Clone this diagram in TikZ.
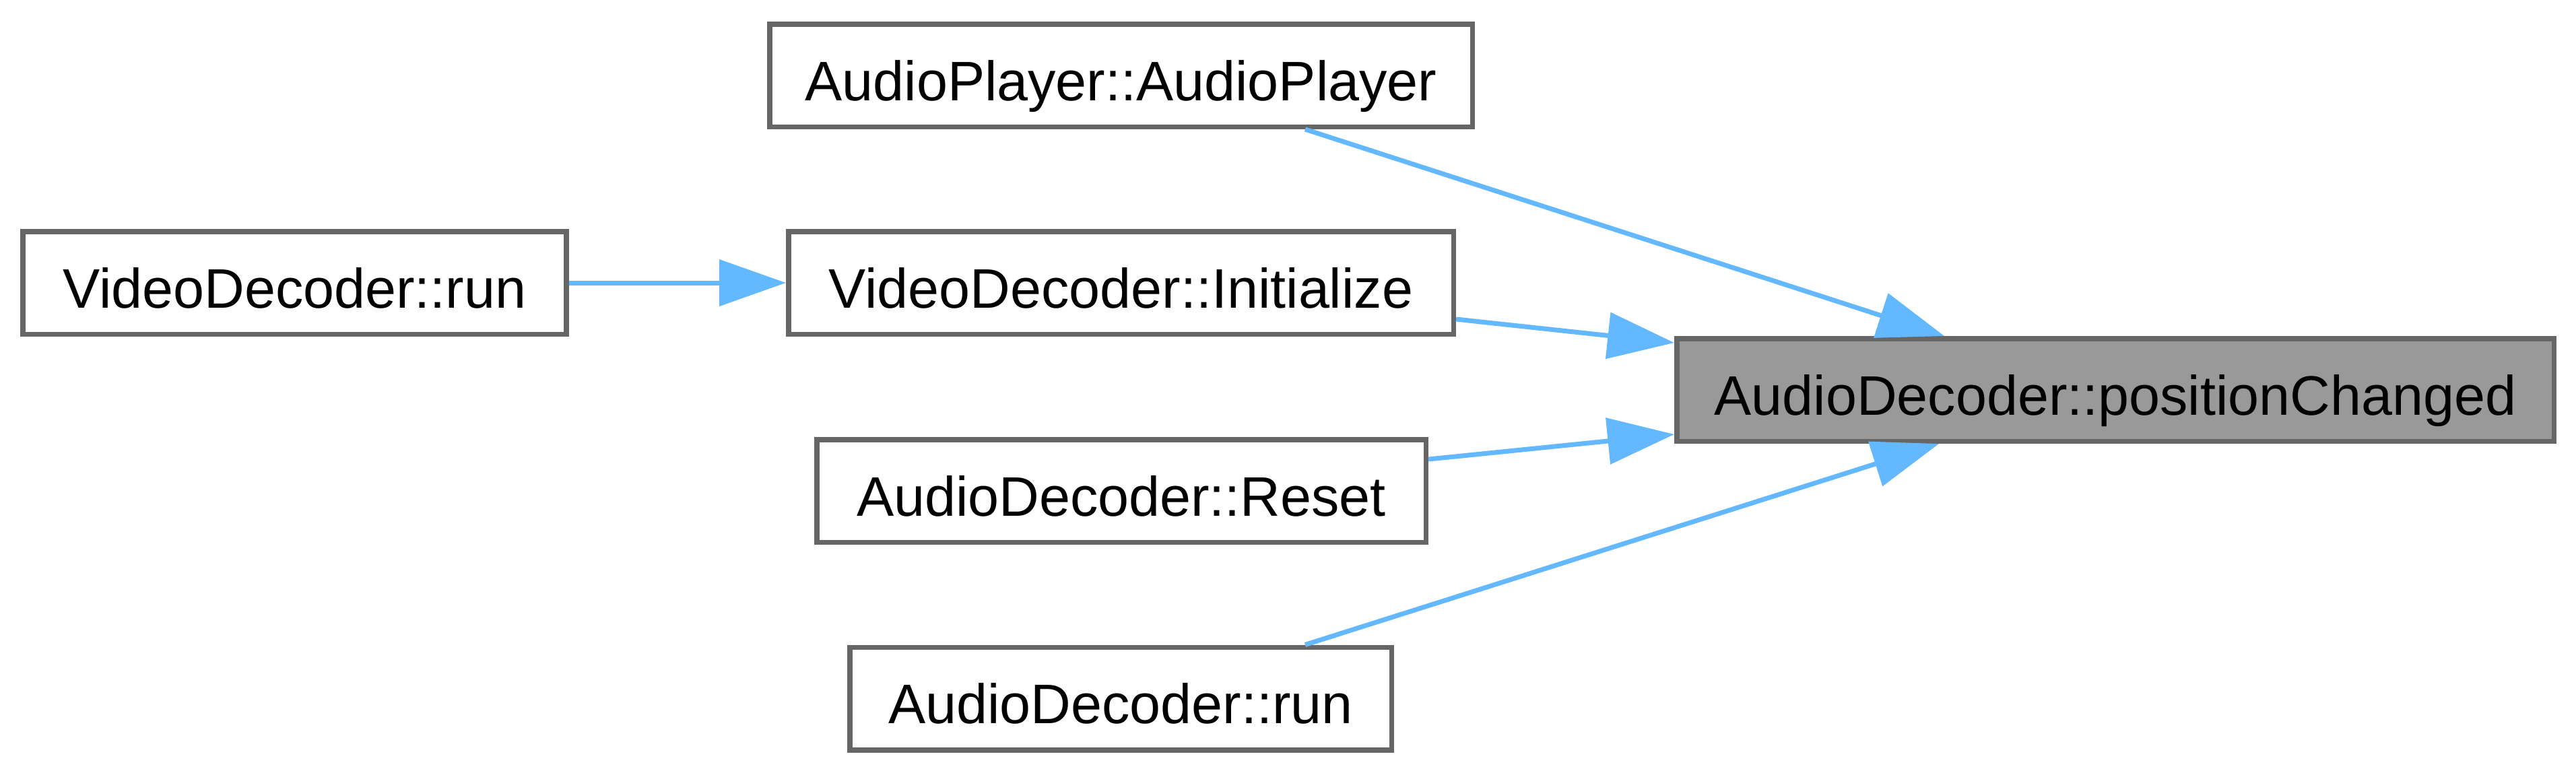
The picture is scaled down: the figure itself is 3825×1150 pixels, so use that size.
\documentclass[tikz,border=0pt]{standalone}
\usepackage{fontspec}
\setmainfont{Liberation Sans}
\usetikzlibrary{arrows.meta}
\definecolor{edgeblue}{HTML}{63B8FF}
\definecolor{boxborder}{HTML}{666666}
\definecolor{focusfill}{HTML}{999999}
\begin{document}
\begin{tikzpicture}[x=0.1pt,y=-0.1pt,
  fnode/.style={draw=boxborder, line width=0.75pt, fill=white, rectangle, inner sep=0pt,
    minimum height=15.25pt, text height=7.4pt, text depth=0pt,
    font=\fontsize{8.27pt}{10pt}\selectfont},
  edge/.style={draw=edgeblue, line width=0.7pt, -{Triangle[length=9.9pt,width=6.8pt]}}]
\useasboundingbox (0,0) rectangle (3825,1150);
\node[fnode, minimum width=104.35pt] (ap) at (1664.5,112) {AudioPlayer::AudioPlayer};
\node[fnode, minimum width=80.75pt] (vrun) at (437.5,420) {VideoDecoder::run};
\node[fnode, minimum width=98.75pt] (init) at (1664.5,420) {VideoDecoder::Initialize};
\node[fnode, fill=focusfill, minimum width=130.25pt] (pc) at (3141,579) {AudioDecoder::positionChanged};
\node[fnode, minimum width=90.45pt] (reset) at (1665,729) {AudioDecoder::Reset};
\node[fnode, minimum width=80.45pt] (arun) at (1664,1037.5) {AudioDecoder::run};

\draw[edge] (vrun.east) -- (init.west);
\draw[edge] ([xshift=27.35pt]ap.south) -- ([xshift=-25.4pt]pc.north);
\draw[edge] ([yshift=-5.4pt]init.east) -- ([yshift=7pt]pc.west);
\draw[edge] ([yshift=4.7pt]reset.east) -- ([yshift=-6.6pt]pc.west);
\draw[edge] ([xshift=27.4pt]arun.north) -- ([xshift=-26.2pt]pc.south);
\end{tikzpicture}
\end{document}
